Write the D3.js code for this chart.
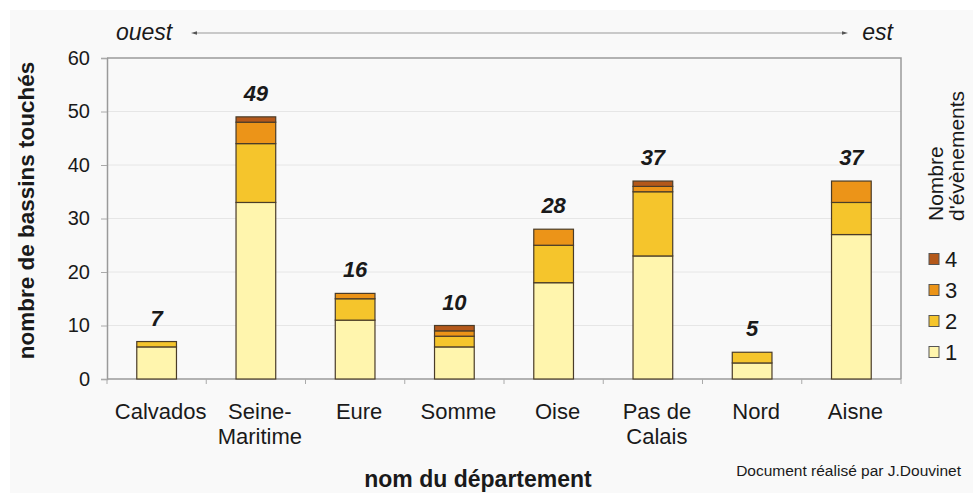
<!DOCTYPE html>
<html>
<head>
<meta charset="utf-8">
<script src="https://cdn.jsdelivr.net/npm/d3@7"></script>
<style>
  body { margin: 0; background: #fff; }
  text { font-family: "Liberation Sans", Arial, sans-serif; fill: #1a1a1a; }
</style>
</head>
<body>
<div id="chart"></div>
<script>
// departements d'ouest en est
const departements = ["Calvados", "Seine-Maritime", "Eure", "Somme", "Oise", "Pas de Calais", "Nord", "Aisne"];
const nomsAxe = [["Calvados"], ["Seine-", "Maritime"], ["Eure"], ["Somme"], ["Oise"], ["Pas de", "Calais"], ["Nord"], ["Aisne"]];

// nombre de bassins touches, par nombre d'evenements
const ev1 = [6, 33, 11, 6, 18, 23, 3, 27];
const ev2 = [1, 11, 4, 2, 7, 12, 2, 6];
const ev3 = [0, 4, 1, 1, 3, 1, 0, 4];
const ev4 = [0, 1, 0, 1, 0, 1, 0, 0];

const cles = ["1", "2", "3", "4"];
const yTicks = [0, 10, 20, 30, 40, 50, 60];

const W = 973, H = 493;
const margin = { top: 58, right: 72, bottom: 114, left: 107 };

const svg = d3.select("#chart")
    .append("svg")
    .attr("width", W)
    .attr("height", H);

// fond legerement gris
svg.append("rect")
    .attr("x", 10).attr("y", 10)
    .attr("width", W - 10).attr("height", H - 10)
    .attr("fill", "#f9f9f9");

const table = departements.map((d, i) => ({
    dep: d, "1": ev1[i], "2": ev2[i], "3": ev3[i], "4": ev4[i]
}));
const series = d3.stack().keys(cles)(table);

const x = d3.scaleBand()
    .domain(departements)
    .range([margin.left, W - margin.right])
    .paddingInner(0.6)
    .paddingOuter(0.3);

const y = d3.scaleLinear()
    .domain([0, 60])
    .range([H - margin.bottom, margin.top]);

const color = d3.scaleOrdinal()
    .domain(cles)
    .range(["#fff5ad", "#f5c52c", "#ec9418", "#b4581a"]);

// grille horizontale
svg.append("g")
    .selectAll("line")
    .data(yTicks.slice(1, -1))
    .join("line")
    .attr("x1", x.range()[0]).attr("x2", x.range()[1])
    .attr("y1", d => y(d)).attr("y2", d => y(d))
    .attr("stroke", "#e6e6e6");

// cadre haut + droite
svg.append("path")
    .attr("d", `M${x.range()[0]},${y(60)}H${x.range()[1]}V${y(0)}`)
    .attr("fill", "none")
    .attr("stroke", "#9a9a9a")
    .attr("stroke-width", 1.5);

// axe Y
const gy = svg.append("g")
    .attr("transform", `translate(${margin.left},0)`)
    .call(d3.axisLeft(y).tickValues(yTicks).tickSize(6).tickPadding(11));
gy.select(".domain").attr("stroke", "#9a9a9a").attr("stroke-width", 1.5);
gy.selectAll(".tick line").attr("stroke", "#aaa");
gy.selectAll(".tick text").attr("font-size", 20).attr("fill", "#222");

// axe X : ligne + graduations entre les categories
const step = x.step();
const bornes = departements.map(d => x(d) - step * x.paddingInner() / 2)
    .concat([x(departements[departements.length - 1]) + x.bandwidth() + step * x.paddingInner() / 2]);
svg.append("line")
    .attr("x1", x.range()[0]).attr("x2", x.range()[1])
    .attr("y1", y(0)).attr("y2", y(0))
    .attr("stroke", "#9a9a9a").attr("stroke-width", 1.5);
svg.append("g")
    .selectAll("line")
    .data(bornes)
    .join("line")
    .attr("x1", d => d).attr("x2", d => d)
    .attr("y1", y(0)).attr("y2", y(0) + 5)
    .attr("stroke", "#aaa");

// libelles des departements
svg.append("g")
    .selectAll("text")
    .data(departements)
    .join("text")
    .attr("x", d => x(d) + x.bandwidth() / 2 + 4)
    .attr("y", y(0) + 40)
    .attr("text-anchor", "middle")
    .attr("font-size", 22)
    .each(function (d, i) {
        d3.select(this).selectAll("tspan")
            .data(nomsAxe[i])
            .join("tspan")
            .attr("x", x(d) + x.bandwidth() / 2 + 4)
            .attr("dy", (t, j) => j === 0 ? 0 : 25)
            .text(t => t);
    });

// barres empilees
svg.append("g")
    .selectAll("g")
    .data(series)
    .join("g")
    .attr("fill", d => color(d.key))
    .selectAll("rect")
    .data(d => d.filter(s => s[1] > s[0]))
    .join("rect")
    .attr("x", d => x(d.data.dep))
    .attr("y", d => y(d[1]))
    .attr("height", d => y(d[0]) - y(d[1]))
    .attr("width", x.bandwidth())
    .attr("stroke", "#4a3c28")
    .attr("stroke-width", 1.2);

// totaux au-dessus des barres
svg.append("g")
    .selectAll("text")
    .data(table)
    .join("text")
    .attr("x", d => x(d.dep) + x.bandwidth() / 2)
    .attr("y", d => y(d["1"] + d["2"] + d["3"] + d["4"]) - 16)
    .attr("text-anchor", "middle")
    .attr("font-size", 22)
    .attr("font-weight", "bold")
    .attr("font-style", "italic")
    .attr("fill", "#111")
    .text(d => d["1"] + d["2"] + d["3"] + d["4"]);

// titres des axes
svg.append("text")
    .attr("transform", `translate(34,${(y(0) + y(60)) / 2 - 8}) rotate(-90)`)
    .attr("text-anchor", "middle")
    .attr("font-size", 22.5)
    .attr("font-weight", "bold")
    .text("nombre de bassins touchés");

svg.append("text")
    .attr("x", 478).attr("y", 487)
    .attr("text-anchor", "middle")
    .attr("font-size", 23)
    .attr("font-weight", "bold")
    .text("nom du département");

svg.append("text")
    .attr("x", 961).attr("y", 476)
    .attr("text-anchor", "end")
    .attr("font-size", 15.5)
    .text("Document réalisé par J.Douvinet");

// fleche ouest -> est
const defs = svg.append("defs");
["debut", "fin"].forEach(id => {
    defs.append("marker")
        .attr("id", id)
        .attr("viewBox", "0 0 10 10")
        .attr("refX", 5).attr("refY", 5)
        .attr("markerWidth", 5).attr("markerHeight", 5)
        .attr("orient", "auto-start-reverse")
        .append("path")
        .attr("d", "M0,2L10,5L0,8Z")
        .attr("fill", "#555");
});
svg.append("line")
    .attr("x1", 194).attr("x2", 845)
    .attr("y1", 33).attr("y2", 33)
    .attr("stroke", "#999")
    .attr("stroke-width", 1.2)
    .attr("marker-start", "url(#debut)")
    .attr("marker-end", "url(#fin)");
svg.append("text")
    .attr("x", 116).attr("y", 40)
    .attr("font-size", 23).attr("font-style", "italic")
    .text("ouest");
svg.append("text")
    .attr("x", 893).attr("y", 40)
    .attr("text-anchor", "end")
    .attr("font-size", 23).attr("font-style", "italic")
    .text("est");

// legende
const leg = svg.append("g");
leg.append("text")
    .attr("transform", "translate(943,221) rotate(-90)")
    .attr("font-size", 21)
    .selectAll("tspan")
    .data(["Nombre", "d'évènements"])
    .join("tspan")
    .attr("x", 0)
    .attr("dy", (d, i) => i === 0 ? 0 : 21)
    .text(d => d);

const legItems = cles.slice().reverse();
const lg = leg.selectAll("g")
    .data(legItems)
    .join("g")
    .attr("transform", (d, i) => `translate(929,${259 + i * 31})`);
lg.append("rect")
    .attr("x", 0).attr("y", -5.5)
    .attr("width", 10).attr("height", 11)
    .attr("fill", d => color(d))
    .attr("stroke", "#555");
lg.append("text")
    .attr("x", 16).attr("y", 8)
    .attr("font-size", 22)
    .text(d => d);
</script>
</body>
</html>
